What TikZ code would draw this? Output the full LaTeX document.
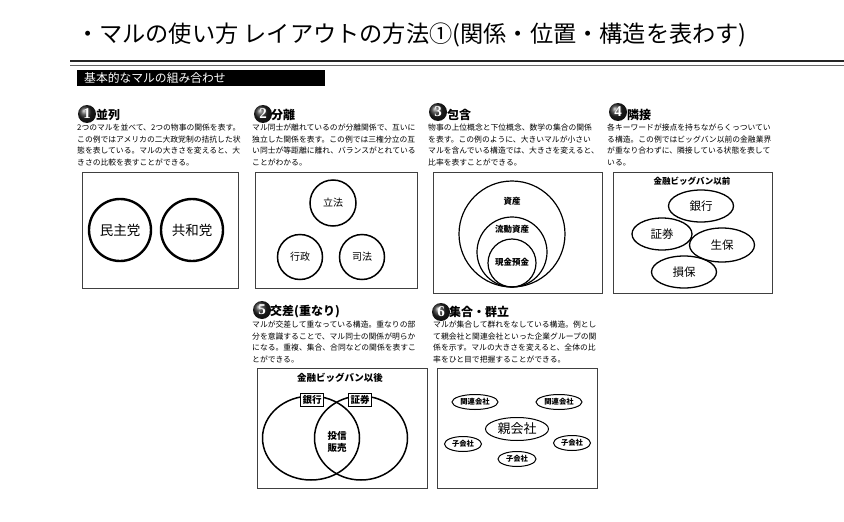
\documentclass[tikz,border=0pt]{standalone}
\usepackage{fontspec}
\setmainfont{Noto Sans CJK JP}
\newfontfamily\serifd{Liberation Serif}
\usetikzlibrary{shapes.geometric}
\tikzset{
  panel/.style={draw=black!75, line width=0.8pt},
  desc/.style={anchor=north west, inner sep=0pt, align=left, font=\fontsize{7.8}{11.5}\selectfont},
  sectitle/.style={anchor=west, inner sep=0pt, font=\fontsize{12}{12}\selectfont\bfseries},
  badge/.style={circle, minimum size=18pt, inner sep=0pt, shading=ball, ball color=black!85, text=white, font=\serifd\bfseries\fontsize{15}{15}\selectfont},
  ring/.style={circle, draw, inner sep=0pt},
  oval/.style={ellipse, draw, inner sep=0pt},
  lab/.style={inner sep=0pt},
}
\begin{document}
\begin{tikzpicture}[x=1pt, y=-1pt]
\useasboundingbox (0,0) rectangle (844,522);
% title
\node[anchor=west, inner sep=0pt, font=\fontsize{23.2}{25}\selectfont] (title) at (76,35) {・マルの使い方\ レイアウトの方法①(関係・位置・構造を表わす)};
\draw[line width=2.5pt, black!85] (70,61) -- (844,61);
\draw[line width=0.8pt, black!60] (70,65.5) -- (844,65.5);
\fill[black] (77,70) rectangle (325,86);
\node[anchor=west, inner sep=0pt, text=white, font=\fontsize{11.8}{12}\selectfont] (bar) at (84,78) {基本的なマルの組み合わせ};

% ---------- 1 並列
\node[badge] (b1) at (87,114) {1};
\node[sectitle] (t1) at (96,115) {並列};
\node[desc] (d1) at (77,124) {2つのマルを並べて、2つの物事の関係を表す。\\この例ではアメリカの二大政党制の拮抗した状\\態を表している。マルの大きさを変えると、大\\きさの比較を表すことができる。};
\draw[panel] (82,172) rectangle (238,288);
\node[ring, line width=2.4pt, minimum size=62pt, font=\fontsize{13.5}{14}\selectfont] (minshu) at (120,230) {民主党};
\node[ring, line width=2.4pt, minimum size=62pt, font=\fontsize{13.5}{14}\selectfont] (kyowa) at (192,230) {共和党};

% ---------- 2 分離
\node[badge] (b2) at (263,114) {2};
\node[sectitle] (t2) at (271,115) {分離};
\node[desc] (d2) at (252,124) {マル同士が離れているのが分離関係で、互いに\\独立した関係を表す。この例では三権分立の互\\い同士が等距離に離れ、バランスがとれている\\ことがわかる。};
\draw[panel] (255,172) rectangle (417,288);
\node[ring, line width=1.5pt, minimum size=46pt, font=\fontsize{10}{11}\selectfont] (rippo) at (333,203) {立法};
\node[ring, line width=1.5pt, minimum size=45pt, font=\fontsize{10}{11}\selectfont] (gyosei) at (300,257) {行政};
\node[ring, line width=1.5pt, minimum size=45pt, font=\fontsize{10}{11}\selectfont] (shiho) at (362,257) {司法};

% ---------- 3 包含
\node[badge] (b3) at (438,112) {3};
\node[sectitle] (t3) at (447,115) {包含};
\node[desc] (d3) at (428,124) {物事の上位概念と下位概念、数学の集合の関係\\を表す。この例のように、大きいマルが小さい\\マルを含んでいる構造では、大きさを変えると、\\比率を表すことができる。};
\draw[panel] (433,172) rectangle (602,293);
\node[ring, line width=1.2pt, minimum size=106pt] (shisan) at (512,234) {};
\node[ring, line width=1.2pt, minimum size=70pt] (ryudo) at (512,252) {};
\node[ring, line width=1.2pt, minimum size=48pt] (genkin) at (512,263) {};
\node[lab, font=\fontsize{8.5}{9}\selectfont\bfseries] (l31) at (512,201) {資産};
\node[lab, font=\fontsize{8.5}{9}\selectfont\bfseries] (l32) at (512,229) {流動資産};
\node[lab, font=\fontsize{8.5}{9}\selectfont\bfseries] (l33) at (512,262) {現金預金};

% ---------- 4 隣接
\node[badge] (b4) at (618,112) {4};
\node[sectitle] (t4) at (627,115) {隣接};
\node[desc] (d4) at (607,124) {各キーワードが接点を持ちながらくっついてい\\る構造。この例ではビッグバン以前の金融業界\\が重なり合わずに、隣接している状態を表して\\いる。};
\draw[panel] (613,172) rectangle (772,293);
\node[lab, font=\fontsize{8.5}{9}\selectfont\bfseries] (t4b) at (692,181) {金融ビッグバン以前};
\node[oval, line width=1.3pt, minimum width=65pt, minimum height=32pt, font=\fontsize{11.5}{12}\selectfont] (ginko) at (701,206) {銀行};
\node[oval, line width=1.3pt, minimum width=60pt, minimum height=32pt, font=\fontsize{11.5}{12}\selectfont] (shoken) at (662,234) {証券};
\node[oval, line width=1.3pt, minimum width=65pt, minimum height=34pt, font=\fontsize{11.5}{12}\selectfont] (seiho) at (722,245) {生保};
\node[oval, line width=1.3pt, minimum width=65pt, minimum height=32pt, font=\fontsize{11.5}{12}\selectfont] (sonpo) at (684,272) {損保};

% ---------- 5 交差
\node[badge] (b5) at (262,310) {5};
\node[sectitle] (t5) at (270,312) {交差(重なり)};
\node[desc] (d5) at (252,321) {マルが交差して重なっている構造。重なりの部\\分を意識することで、マル同士の関係が明らか\\になる。重複、集合、合同などの関係を表すこ\\とができる。};
\draw[panel] (257,368) rectangle (427,488);
\node[lab, font=\fontsize{9.5}{10}\selectfont\bfseries] (t5b) at (340,378) {金融ビッグバン以後};
\node[oval, line width=1.5pt, minimum width=97pt, minimum height=84pt] (left5) at (311,438) {};
\node[oval, line width=1.5pt, minimum width=93pt, minimum height=84pt] (right5) at (361,438) {};
\node[draw, fill=white, line width=1pt, inner sep=1.8pt, font=\fontsize{9.5}{10}\selectfont\bfseries] (g5) at (312,400) {銀行};
\node[draw, fill=white, line width=1pt, inner sep=1.8pt, font=\fontsize{9.5}{10}\selectfont\bfseries] (s5) at (360,400) {証券};
\node[lab, align=center, font=\fontsize{9.5}{12}\selectfont\bfseries] (toshin) at (337,442) {投信\\販売};

% ---------- 6 集合・群立
\node[badge] (b6) at (441,312) {6};
\node[sectitle] (t6) at (449,312) {集合・群立};
\node[desc] (d6) at (433,321) {マルが集合して群れをなしている構造。例とし\\て親会社と関連会社といった企業グループの関\\係を示す。マルの大きさを変えると、全体の比\\率をひと目で把握することができる。};
\draw[panel] (437,368) rectangle (597,488);
\node[oval, line width=1pt, minimum width=46pt, minimum height=15pt, font=\fontsize{7.3}{8}\selectfont\bfseries] (kanren1) at (475,402) {関連会社};
\node[oval, line width=1pt, minimum width=46pt, minimum height=15pt, font=\fontsize{7.3}{8}\selectfont\bfseries] (kanren2) at (559,402) {関連会社};
\node[oval, line width=1pt, minimum width=63pt, minimum height=23pt, font=\fontsize{13}{14}\selectfont] (oya) at (517,429) {親会社};
\node[oval, line width=1pt, minimum width=37pt, minimum height=15pt, font=\fontsize{7.3}{8}\selectfont\bfseries] (ko1) at (463,444) {子会社};
\node[oval, line width=1pt, minimum width=37pt, minimum height=15pt, font=\fontsize{7.3}{8}\selectfont\bfseries] (ko2) at (572,443) {子会社};
\node[oval, line width=1pt, minimum width=38pt, minimum height=15pt, font=\fontsize{7.3}{8}\selectfont\bfseries] (ko3) at (517,459) {子会社};
\end{tikzpicture}
\end{document}
